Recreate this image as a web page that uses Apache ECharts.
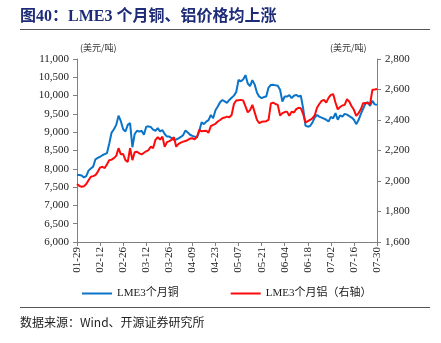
<!DOCTYPE html>
<html>
<head>
<meta charset="utf-8">
<script src="https://cdn.jsdelivr.net/npm/echarts@6/dist/echarts.min.js"></script>
<style>
html,body{margin:0;padding:0;background:#fff;}
#chart{width:441px;height:343px;}
</style>
</head>
<body>
<div id="chart"></div>
<script>
// Trading days (weekdays) from 2021-01-29 to 2021-07-30
const startDate = '2021-01-29';
const endDate = '2021-07-30';

// LME 3-month copper, USD/t (left axis)
const copper = [
  7828, 7830, 7820, 7765, 7800, 7950, 8010, 8060, 8260, 8300,
  8330, 8370, 8400, 8430, 8700, 8990, 9080, 9200, 9450, 9300,
  9080, 9020, 9200, 9250, 8590, 8950, 9040, 9015, 9040, 8930,
  9150, 9160, 9140, 9070, 9040, 9110, 9020, 9060, 8950, 8880,
  8880, 8840, 8790, 8800, 8830, 8870, 8920, 9045, 8990, 8930,
  8900, 8880, 8860, 9040, 9270, 9220, 9290, 9330, 9470, 9380,
  9600, 9700, 9820, 9880, 9840, 9800, 9880, 9940, 10000, 10100,
  10430, 10390, 10440, 10560, 10330, 10260, 10420, 10300, 10080, 9970,
  9930, 9960, 9975, 10220, 10290, 10295, 10280, 10270, 10160, 9840,
  9975, 9975, 10010, 9930, 9995, 10020, 9975, 9995, 9650, 9180,
  9150, 9170, 9260, 9400, 9470, 9425, 9400, 9370, 9340, 9290,
  9420, 9380, 9520, 9340, 9460, 9425, 9500, 9480, 9440, 9400,
  9340, 9220, 9330, 9500, 9640, 9790, 9820, 9720, 9860, 9760,
  9750
];

// LME 3-month aluminium, USD/t (right axis)
const aluminium = [
  1980, 1968, 1962, 1965, 1980, 2005, 2028, 2032, 2039, 2060,
  2088, 2093, 2085, 2110, 2137, 2140, 2150, 2165, 2215, 2175,
  2177, 2137, 2125, 2215, 2137, 2188, 2192, 2181, 2174, 2185,
  2195, 2203, 2225, 2216, 2270, 2287, 2272, 2291, 2225, 2255,
  2262, 2270, 2287, 2225, 2243, 2252, 2258, 2262, 2269, 2278,
  2280, 2274, 2290, 2335, 2326, 2328, 2330, 2317, 2360, 2368,
  2375, 2390, 2400, 2412, 2416, 2422, 2418, 2433, 2505, 2528,
  2530, 2532, 2528, 2490, 2450, 2465, 2499, 2450, 2400, 2380,
  2388, 2390, 2392, 2401, 2508, 2514, 2505, 2499, 2430, 2445,
  2452, 2455, 2427, 2455, 2449, 2471, 2480, 2477, 2440, 2385,
  2392, 2401, 2410, 2430, 2480, 2505, 2525, 2532, 2514, 2545,
  2565, 2570, 2515, 2470, 2485, 2495, 2499, 2537, 2520, 2490,
  2467, 2427, 2445, 2470, 2510, 2512, 2510, 2505, 2598, 2600,
  2603
];

const seriesNames = ['LME3个月铜', 'LME3个月铝（右轴）'];
const unitLabel = '(美元/吨)';

function tradingDays(from, to) {
  const out = [];
  const d = new Date(from + 'T00:00:00Z');
  const end = new Date(to + 'T00:00:00Z');
  while (d <= end) {
    const wd = d.getUTCDay();
    if (wd !== 0 && wd !== 6) {
      const m = String(d.getUTCMonth() + 1).padStart(2, '0');
      const dd = String(d.getUTCDate()).padStart(2, '0');
      out.push(m + '-' + dd);
    }
    d.setUTCDate(d.getUTCDate() + 1);
  }
  return out;
}
const dates = tradingDays(startDate, endDate);

const serif = '"Liberation Serif", "Noto Sans CJK SC", serif';
const axisColor = '#808080';
const thousands = v => v.toLocaleString('en-US');

const chart = echarts.init(document.getElementById('chart'), null, {renderer: 'canvas'});
chart.setOption({
  animation: false,
  backgroundColor: '#fff',
  grid: {left: 77, right: 64, top: 59, bottom: 101, containLabel: false},
  xAxis: {
    type: 'category',
    data: dates,
    boundaryGap: false,
    axisLine: {lineStyle: {color: axisColor, width: 1}},
    axisTick: {interval: 9, length: 4, lineStyle: {color: axisColor}},
    axisLabel: {
      interval: 9, rotate: 90, margin: 5,
      fontFamily: serif, fontSize: 11, color: '#222'
    },
    splitLine: {show: false}
  },
  yAxis: [
    {
      type: 'value', min: 6000, max: 11000, interval: 500,
      position: 'left',
      axisLine: {show: true, lineStyle: {color: axisColor}},
      axisTick: {show: true, length: 4, lineStyle: {color: axisColor}},
      axisLabel: {formatter: thousands, fontFamily: serif, fontSize: 11, color: '#222', margin: 8},
      splitLine: {show: false}
    },
    {
      type: 'value', min: 1600, max: 2800, interval: 200,
      position: 'right',
      axisLine: {show: true, lineStyle: {color: axisColor}},
      axisTick: {show: true, length: 4, lineStyle: {color: axisColor}},
      axisLabel: {formatter: thousands, fontFamily: serif, fontSize: 11, color: '#222', margin: 8},
      splitLine: {show: false}
    }
  ],
  legend: {
    top: 283, left: 77, itemWidth: 30, itemHeight: 2, itemGap: 52,
    icon: 'rect',
    textStyle: {fontFamily: serif, fontSize: 11, color: '#222'},
    data: seriesNames
  },
  series: [
    {
      name: seriesNames[0], type: 'line', yAxisIndex: 0, data: copper,
      showSymbol: false, lineStyle: {color: '#0B74C9', width: 2},
      itemStyle: {color: '#0B74C9'}
    },
    {
      name: seriesNames[1], type: 'line', yAxisIndex: 1, data: aluminium,
      showSymbol: false, lineStyle: {color: '#FF0A0A', width: 2},
      itemStyle: {color: '#FF0A0A'}
    }
  ],
  graphic: [
    {type: 'text', left: 20, top: 9, style: {
      text: '图40：LME3 个月铜、铝价格均上涨',
      font: 'bold 16px "Liberation Serif", "Noto Sans CJK SC", serif', fill: '#1E2C78'}},
    {type: 'rect', shape: {x: 20, y: 29, width: 410, height: 1}, style: {fill: '#555'}},
    {type: 'text', left: 80, top: 43, style: {
      text: unitLabel, font: '9px "Noto Sans CJK SC", sans-serif', fill: '#333'}},
    {type: 'text', left: 330, top: 43, style: {
      text: unitLabel, font: '9px "Noto Sans CJK SC", sans-serif', fill: '#333'}},
    {type: 'rect', shape: {x: 20, y: 307, width: 410, height: 1}, style: {fill: '#555'}},
    {type: 'text', left: 20, top: 316, style: {
      text: '数据来源：Wind、开源证券研究所',
      font: '12px "Noto Sans CJK SC", "Liberation Serif", sans-serif', fill: '#222'}}
  ]
});
</script>
</body>
</html>
